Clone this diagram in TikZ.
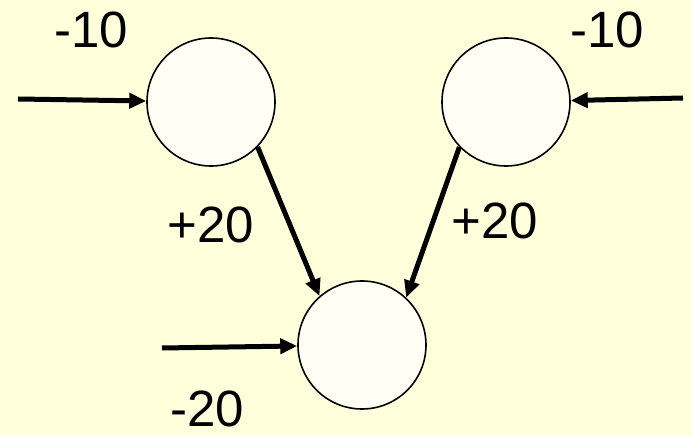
\documentclass[tikz,border=0pt]{standalone}
\usepackage{fontspec}
\setmainfont{Liberation Sans}
\usetikzlibrary{arrows.meta}
\definecolor{paleyellow}{HTML}{FFFFDC}
\definecolor{cellwhite}{HTML}{FFFFF6}

\tikzset{
  neuron/.style={circle, draw, line width=1.6pt, fill=cellwhite, minimum size=128pt, inner sep=0pt},
  weight/.style={line width=5pt, -{Triangle[length=17pt,width=15pt]}},
  wlabel/.style={font=\fontsize{51}{55}\selectfont, inner sep=0pt}
}

\begin{document}
\begin{tikzpicture}[x=1pt, y=-1pt]
    \fill[paleyellow] (0,0) rectangle (691,435);
    \useasboundingbox (0,0) rectangle (691,435);

    \node[neuron] (left) at (211, 102) {};
    \node[neuron] (right) at (506, 102) {};
    \node[neuron] (out) at (362, 345) {};

    \coordinate (inleft) at (18, 99);
    \coordinate (inright) at (683, 98);
    \coordinate (inout) at (162, 348);

    \draw[weight] (inleft) -- (left);
    \draw[weight] (inright) -- (right);
    \draw[weight] (inout) -- (out);
    \draw[weight] (left.-44) -- (out.131);
    \draw[weight] (right.224) -- (out.47);

    \node[wlabel] (tleft) at (91, 30) {-10};
    \node[wlabel] (tright) at (607, 30) {-10};
    \node[wlabel] (wleft) at (211, 225) {+20};
    \node[wlabel] (wright) at (495, 221) {+20};
    \node[wlabel] (tout) at (207, 409) {-20};
  \end{tikzpicture}
\end{document}
